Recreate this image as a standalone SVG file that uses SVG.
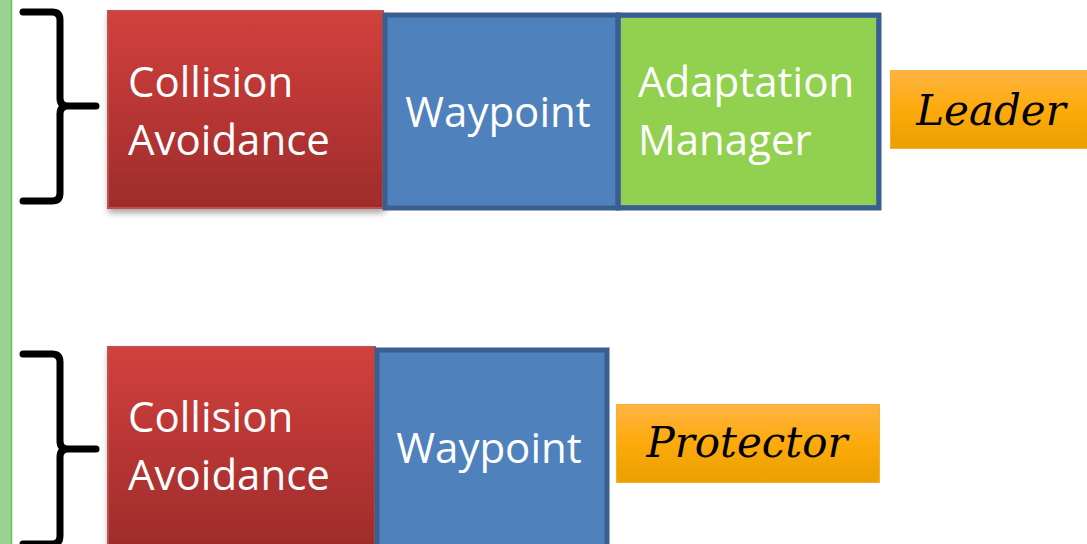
<svg xmlns="http://www.w3.org/2000/svg" width="1087" height="544" viewBox="0 0 1087 544">
  <defs>
    <linearGradient id="redGrad" x1="0" y1="0" x2="0" y2="1">
      <stop offset="0" stop-color="#D2403D"/>
      <stop offset="1" stop-color="#9E2C2B"/>
    </linearGradient>
    <linearGradient id="orangeGrad" x1="0" y1="0" x2="0" y2="1">
      <stop offset="0" stop-color="#FFB443"/>
      <stop offset="0.5" stop-color="#FDAA0B"/>
      <stop offset="1" stop-color="#E9A000"/>
    </linearGradient>
    <filter id="shadow" x="-10%" y="-10%" width="125%" height="125%">
      <feGaussianBlur in="SourceAlpha" stdDeviation="3"/>
      <feOffset dx="1" dy="4" result="b"/>
      <feComponentTransfer><feFuncA type="linear" slope="0.35"/></feComponentTransfer>
      <feMerge><feMergeNode/><feMergeNode in="SourceGraphic"/></feMerge>
    </filter>
  </defs>
  <style>
    .label { font-family: "Open Sans", "Noto Sans", sans-serif; font-size: 42px; fill: #FFFFFF; }
    .role { font-family: "DejaVu Serif", "Liberation Serif", serif; font-style: italic; font-size: 42px; fill: #000000; }
    .brace { fill: none; stroke: #000000; stroke-width: 7; stroke-linecap: round; stroke-linejoin: round; }
    .red { fill: url(#redGrad); stroke: #C0504D; stroke-width: 2; }
    .blue { fill: #4F81BD; stroke: #3A5F8F; stroke-width: 5; }
    .green { fill: #92D050; }
    .orange { fill: url(#orangeGrad); stroke: #F5B030; stroke-width: 1; }
  </style>

  <rect width="1087" height="544" fill="#FFFFFF"/>

  <!-- side bar -->
  <g id="side-bar">
    <rect x="0" y="0" width="12" height="544" fill="#9BD28F"/>
    <line x1="11.5" y1="0" x2="11.5" y2="544" stroke="#6CBF5E" stroke-width="1.5"/>
  </g>

  <!-- braces -->
  <g id="connectors">
    <path class="brace" d="M23,12 L52,12 Q60,12 60,20 L60,98 Q60,106 68,106 L96,106 M68,106 Q60,106 60,114 L60,193 Q60,201 52,201 L23,201"/>
    <path class="brace" d="M23,354 L52,354 Q60,354 60,362 L60,441 Q60,449 68,449 L96,449 M68,449 Q60,449 60,457 L60,536 Q60,544 52,544 L23,544"/>
  </g>

  <!-- leader stack -->
  <g id="leader-collision">
    <rect class="red" x="108" y="11" width="275" height="197" filter="url(#shadow)"/>
    <text class="label" x="128" y="97">Collision</text>
    <text class="label" x="128" y="155">Avoidance</text>
  </g>
  <g id="leader-waypoint">
    <rect class="blue" x="385" y="15" width="233" height="193"/>
    <text class="label" x="498" y="127" text-anchor="middle">Waypoint</text>
  </g>
  <g id="leader-adaptation">
    <rect class="blue" x="618" y="15" width="261" height="193"/>
    <rect class="green" x="621" y="18" width="255" height="187"/>
    <text class="label" x="638" y="97">Adaptation</text>
    <text class="label" x="638" y="155">Manager</text>
  </g>
  <g id="leader-role">
    <rect class="orange" x="890.5" y="70.5" width="197" height="78"/>
    <text class="role" x="991" y="125" text-anchor="middle">Leader</text>
  </g>

  <!-- protector stack -->
  <g id="protector-collision">
    <rect class="red" x="108" y="347" width="267" height="200" filter="url(#shadow)"/>
    <text class="label" x="128" y="432">Collision</text>
    <text class="label" x="128" y="490">Avoidance</text>
  </g>
  <g id="protector-waypoint">
    <rect class="blue" x="377" y="350" width="230" height="200"/>
    <text class="label" x="489" y="463" text-anchor="middle">Waypoint</text>
  </g>
  <g id="protector-role">
    <rect class="orange" x="616.5" y="404.5" width="263" height="78"/>
    <text class="role" x="747" y="457" text-anchor="middle">Protector</text>
  </g>
</svg>
